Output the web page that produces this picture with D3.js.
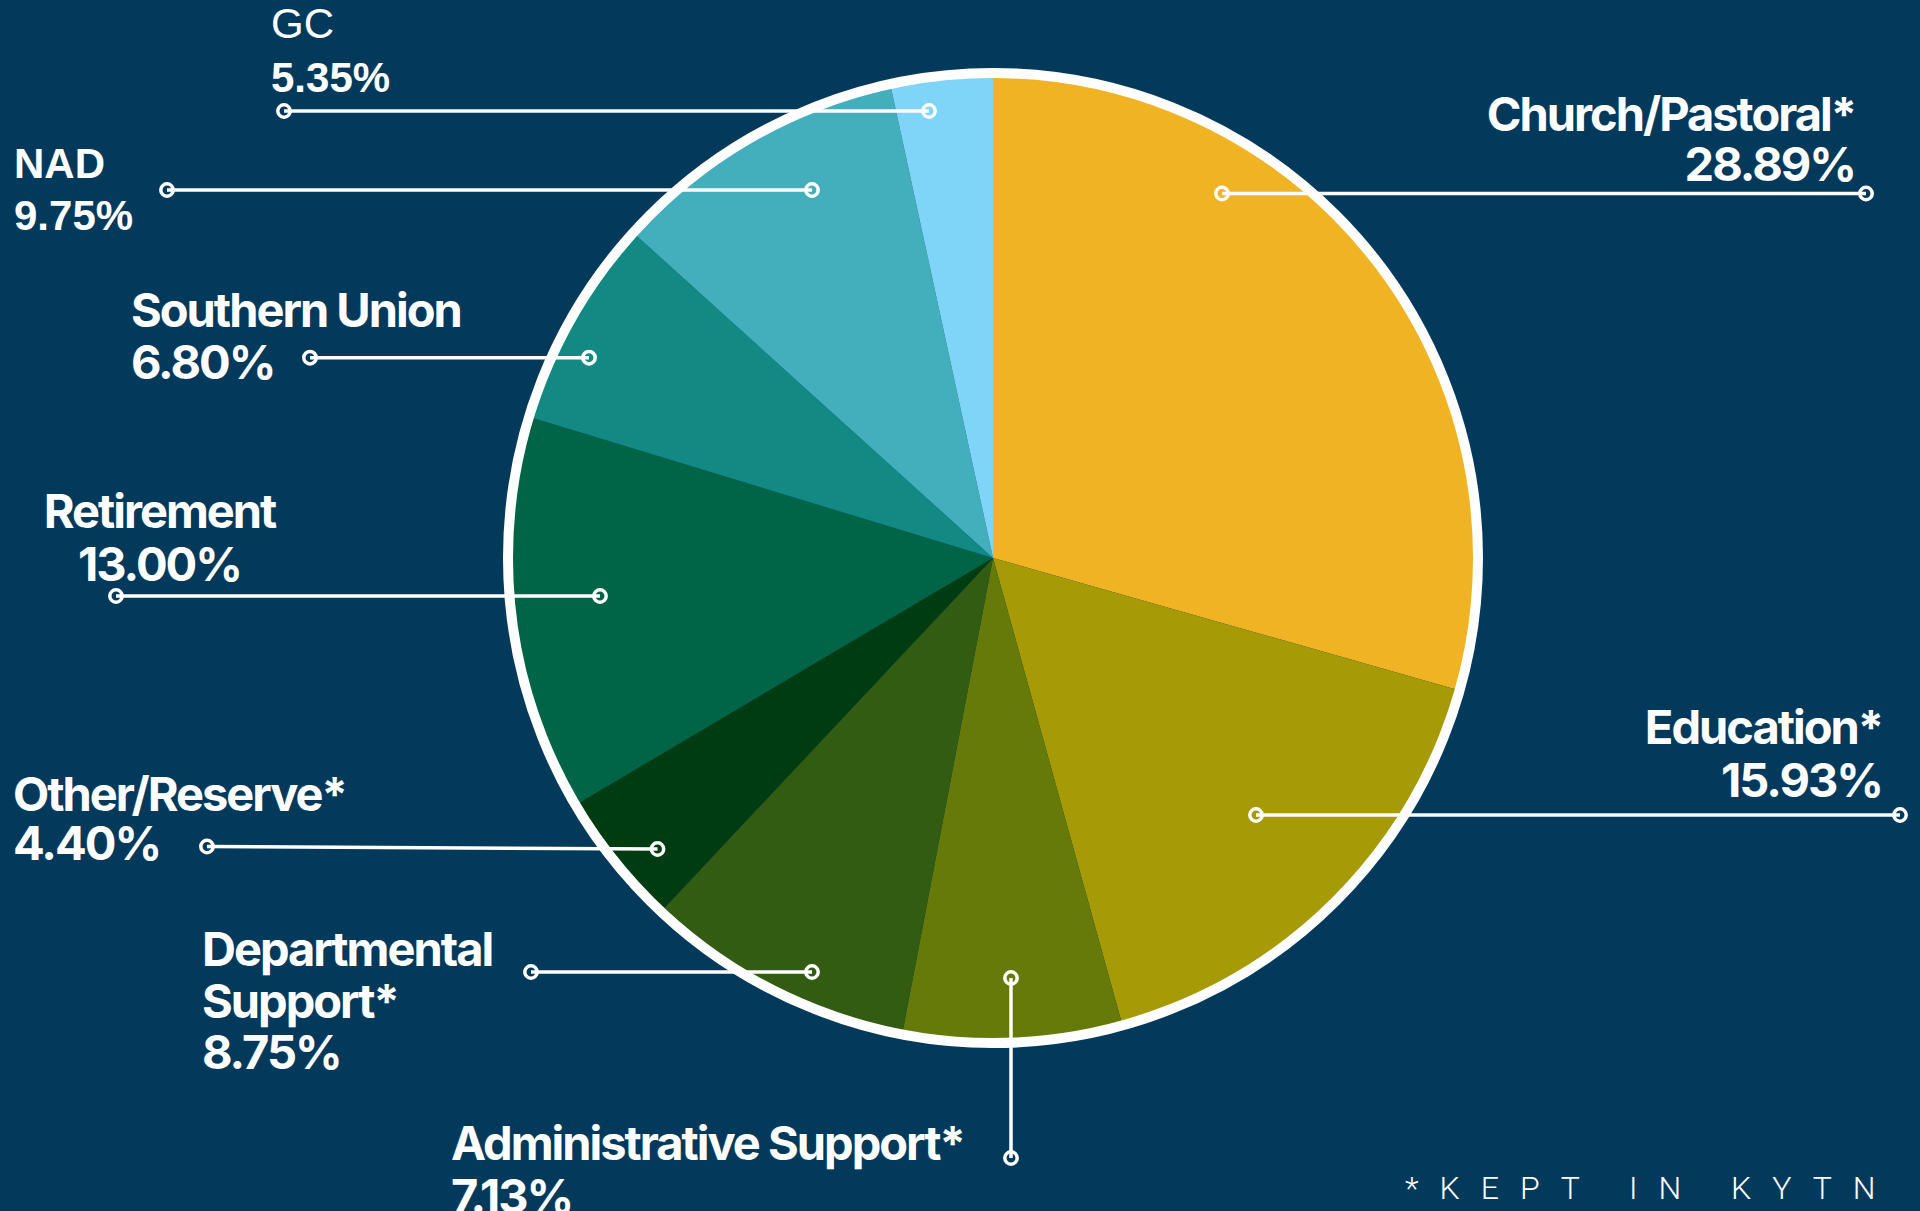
<!DOCTYPE html>
<html>
<head>
<meta charset="utf-8">
<script src="https://cdn.jsdelivr.net/npm/d3@7"></script>
<style>
  html, body { margin: 0; padding: 0; background: #033a5b; overflow: hidden; }
  svg { display: block; }
  .lbl { fill: #fff; font-family: Inter, "Noto Sans", sans-serif; font-weight: 700; font-size: 47px; letter-spacing: -2px; }
  .lbl.arial { font-family: "Liberation Sans", Arial, sans-serif; letter-spacing: 0; font-size: 42px; }
  .note { fill: #fff; font-family: Roboto, sans-serif; font-weight: 300; font-size: 32px; letter-spacing: 21px; }
</style>
</head>
<body>
<svg id="chart"></svg>
<script>
// slices clockwise from 12 o'clock
const categories = ['Church/Pastoral*', 'Education*', 'Administrative Support*', 'Departmental Support*',
  'Other/Reserve*', 'Retirement', 'Southern Union', 'NAD', 'GC'];
const pctLabels = ['28.89%', '15.93%', '7.13%', '8.75%', '4.40%', '13.00%', '6.80%', '9.75%', '5.35%'];
// wedge sizes as drawn in the picture (measured from the slice edges)
const drawnShares = [29.4, 16.3, 7.3, 9.0, 4.5, 13.2, 7.0, 9.9, 3.4];
const sliceColors = ['#f0b323', '#a69a06', '#667a0a', '#325c12', '#003c12', '#006446', '#128a83', '#43afbc', '#7fd5f7'];
const footnote = '*KEPT IN KYTN';

// label placement, one per slice
const layout = [
  { anchor: 'end', x: 1855, ys: [131, 181], line: [[1222, 193.5], [1866, 193.5]] },
  { anchor: 'end', x: 1882, ys: [744, 797], line: [[1256, 815], [1900, 815]] },
  { anchor: 'start', x: 451, ys: [1160, 1213], line: [[1011, 978], [1011, 1158]] },
  { anchor: 'start', x: 202, ys: [966, 1018, 1069], wrap: ['Departmental', 'Support*'], line: [[531, 972], [812, 972]] },
  { anchor: 'start', x: 13, ys: [811, 860], line: [[207, 846.5], [657.5, 849]] },
  { anchor: 'middle', x: 159.5, ys: [528, 581], line: [[116, 596], [600, 596]] },
  { anchor: 'start', x: 131, ys: [327, 379], line: [[310, 357.7], [589, 357.7]] },
  { anchor: 'start', x: 14, ys: [178, 230], arial: true, bold: true, line: [[167, 190], [812, 190]] },
  { anchor: 'start', x: 271, ys: [38, 92], arial: true, line: [[284, 111], [929, 111]] },
];

const width = 1920;
const height = 1211;
const cx = 993;
const cy = 558;
const radius = 485;

const chart = d3.select('#chart')
  .attr('width', width)
  .attr('height', height);

chart.append('rect')
  .attr('width', width)
  .attr('height', height)
  .attr('fill', '#033a5b');

const data = categories.map((c, i) => ({
  name: c,
  pct: pctLabels[i],
  share: drawnShares[i],
  color: sliceColors[i],
  pos: layout[i],
}));

const pie = d3.pie()
  .sort(null)
  .value(d => d.share);

const arc = d3.arc()
  .innerRadius(0)
  .outerRadius(radius);

const g = chart.append('g')
  .attr('transform', `translate(${cx}, ${cy})`);

g.selectAll('path')
  .data(pie(data))
  .enter().append('path')
    .attr('d', arc)
    .attr('fill', d => d.data.color);

g.append('circle')
  .attr('r', radius)
  .attr('fill', 'none')
  .attr('stroke', '#fff')
  .attr('stroke-width', 10);

// leader lines
const ann = chart.selectAll('.ann')
  .data(data)
  .enter().append('g')
    .attr('class', 'ann');

ann.append('line')
  .attr('x1', d => d.pos.line[0][0])
  .attr('y1', d => d.pos.line[0][1])
  .attr('x2', d => d.pos.line[1][0])
  .attr('y2', d => d.pos.line[1][1])
  .attr('stroke', '#fff')
  .attr('stroke-width', 3.5);

ann.selectAll('circle')
  .data(d => d.pos.line)
  .enter().append('circle')
    .attr('cx', p => p[0])
    .attr('cy', p => p[1])
    .attr('r', 6.2)
    .attr('fill', 'none')
    .attr('stroke', '#fff')
    .attr('stroke-width', 3.5);

// labels
ann.each(function(d) {
  const lines = (d.pos.wrap || [d.name]).concat([d.pct]);
  const text = d3.select(this).append('text')
    .attr('class', d.pos.arial ? 'lbl arial' : 'lbl')
    .attr('text-anchor', d.pos.anchor);
  lines.forEach((t, i) => {
    const isName = i < lines.length - 1;
    text.append('tspan')
      .attr('x', d.pos.x)
      .attr('y', d.pos.ys[i])
      .attr('font-weight', d.pos.arial ? (isName && !d.pos.bold ? 400 : 700) : null)
      .text(t);
  });
});

chart.append('text')
  .attr('class', 'note')
  .attr('x', 1405)
  .attr('y', 1199)
  .text(footnote);
</script>
</body>
</html>
